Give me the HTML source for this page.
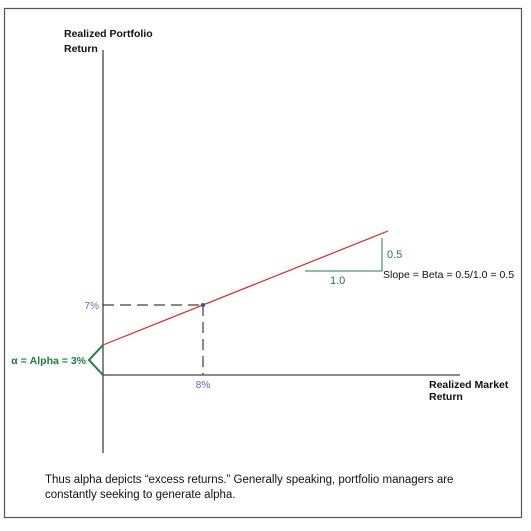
<!DOCTYPE html>
<html><head><meta charset="utf-8"><style>
html,body{margin:0;padding:0;background:#fff;}
svg text{font-family:"Liberation Sans",Arial,sans-serif;}
</style></head><body>
<svg width="531" height="526" viewBox="0 0 531 526" xmlns="http://www.w3.org/2000/svg">
<rect x="4.5" y="8.5" width="517" height="509" fill="#fff" stroke="#555" stroke-width="1.2"/>
<g id="plot"></g>
<text x="64" y="37" font-size="10.5" font-weight="bold" fill="#111">Realized Portfolio</text>
<text x="64" y="52" font-size="10.5" font-weight="bold" fill="#111">Return</text>
<text x="429" y="388" font-size="10.5" font-weight="bold" fill="#111">Realized Market</text>
<text x="429" y="400" font-size="10.5" font-weight="bold" fill="#111">Return</text>
<text x="45" y="483" font-size="11.5" fill="#111">Thus alpha depicts “excess returns.” Generally speaking, portfolio managers are</text>
<text x="45" y="498" font-size="11.5" fill="#111">constantly seeking to generate alpha.</text>
</svg>
<script>
const alpha = 3;
const beta = 0.5;
const marketPoint = [8];
const marketEnd = 22.8;
const ox = 103, oy = 375, sx = 12.5, sy = 10;
function X(v){return ox + v*sx;}
function Y(v){return oy - v*sy;}
const g = document.getElementById('plot');
const NS = 'http://www.w3.org/2000/svg';
function mk(tag, attrs, name){
  const e = document.createElementNS(NS, tag);
  for (const k in attrs) e.setAttribute(k, attrs[k]);
  
  
  g.appendChild(e); return e;
}
mk('line',{x1:ox,y1:50,x2:ox,y2:453,stroke:'#444','stroke-width':1.3},'y-axis');
mk('line',{x1:ox,y1:oy,x2:460,y2:oy,stroke:'#444','stroke-width':1.3},'x-axis');
mk('polyline',{points:`${ox},${Y(alpha)} ${ox-14},${(Y(alpha)+Y(0))/2} ${ox},${Y(0)}`,fill:'none',stroke:'#1a8040','stroke-width':2},'alpha-bracket');
const at = mk('text',{x:ox-17,y:(Y(alpha)+Y(0))/2+4,'font-size':10.5,'font-weight':'bold',fill:'#1a8040','text-anchor':'end'},'alpha-label');
at.textContent = 'α = Alpha = ' + alpha + '%';
mk('line',{x1:X(0),y1:Y(alpha),x2:X(marketEnd),y2:Y(alpha+beta*marketEnd),stroke:'#e8202a','stroke-width':1.2},'regression-line');
marketPoint.forEach(m=>{
  const p = alpha + beta*m;
  mk('line',{x1:ox,y1:Y(p),x2:X(m),y2:Y(p),stroke:'#111','stroke-width':1,'stroke-dasharray':'11,6'},'h-dash');
  mk('line',{x1:X(m),y1:Y(p),x2:X(m),y2:oy,stroke:'#555','stroke-width':1.4,'stroke-dasharray':'11,6'},'v-dash');
  mk('circle',{cx:X(m),cy:Y(p),r:2,fill:'#3a4aa0'},'data-point');
  const yl = mk('text',{x:ox-4,y:Y(p)+4,'font-size':10,fill:'#5a6ab0','text-anchor':'end'},'y-tick-label');
  yl.textContent = p + '%';
  const xl = mk('text',{x:X(m),y:oy+13,'font-size':10,fill:'#5a6ab0','text-anchor':'middle'},'x-tick-label');
  xl.textContent = m + '%';
});
mk('line',{x1:305,y1:271,x2:382,y2:271,stroke:'#1a8040','stroke-width':1},'run-line');
mk('line',{x1:382,y1:238,x2:382,y2:271,stroke:'#1a8040','stroke-width':1},'rise-line');
const r = mk('text',{x:330,y:284,'font-size':11,fill:'#1a8040'},'run-label'); r.textContent='1.0';
const ri = mk('text',{x:387,y:258,'font-size':11,fill:'#1a8040'},'rise-label'); ri.textContent='0.5';
const sl = mk('text',{x:383,y:278,'font-size':10.5,fill:'#111'},'slope-label'); sl.textContent='Slope = Beta = 0.5/1.0 = ' + beta;
</script>
</body></html>
